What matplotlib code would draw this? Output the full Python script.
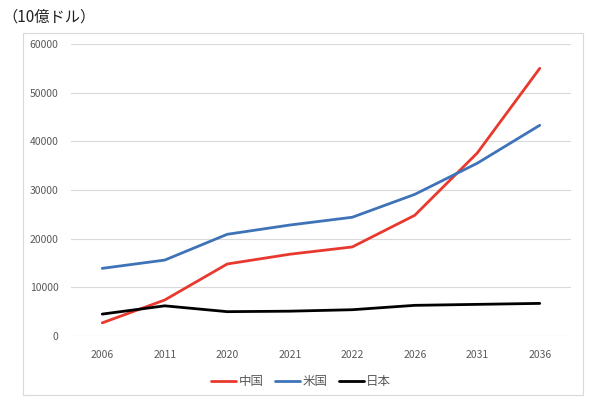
import matplotlib
matplotlib.use("Agg")
import matplotlib.pyplot as plt
from matplotlib.patches import Rectangle

plt.rcParams['font.family'] = ['Noto Sans CJK JP', 'DejaVu Sans']

years = ["2006", "2011", "2020", "2021", "2022", "2026", "2031", "2036"]
china = [2700, 7400, 14800, 16800, 18300, 24800, 37600, 55000]
usa = [13900, 15600, 20900, 22800, 24400, 29100, 35500, 43300]
japan = [4500, 6200, 5000, 5100, 5400, 6300, 6500, 6700]
series_names = ["中国", "米国", "日本"]
colors = ["#e8392e", "#3f73b8", "#000000"]
yticks = [0, 10000, 20000, 30000, 40000, 50000, 60000]

W, H = 600, 397
fig = plt.figure(figsize=(W/100, H/100), dpi=100)
fig.patches.append(Rectangle((23/W, 1-395/H), (583-23)/W, (395-33)/H,
                             transform=fig.transFigure, fill=False,
                             edgecolor="#d9d9d9", linewidth=0.8))
ax = fig.add_axes([71/W, 1-336/H, 500/W, (336-44)/H])
x = list(range(len(years)))
for vals, name, c in zip([china, usa, japan], series_names, colors):
    ax.plot(x, vals, color=c, linewidth=2.0, label=name, solid_capstyle='round')
ax.set_xlim(-0.5, len(years)-0.5)
ax.set_ylim(0, 60000)
ax.set_yticks(yticks)
ax.set_yticklabels([str(v) for v in yticks])
ax.set_xticks(x)
ax.set_xticklabels(years)
ax.grid(axis='y', color="#d9d9d9", linewidth=0.8)
ax.set_axisbelow(True)
for s in ax.spines.values():
    s.set_visible(False)
ax.tick_params(axis='both', length=0, labelsize=7.5, colors="#595959")
ax.tick_params(axis='y', pad=9)
ax.tick_params(axis='x', pad=10)
leg = ax.legend(loc='upper center', bbox_to_anchor=(0.46, -0.095), ncol=3, frameon=False,
                fontsize=9, handlelength=2.0, handletextpad=0.2, columnspacing=0.9)
for t in leg.get_texts():
    t.set_color("#595959")
fig.text(2/W, 1-17/H, "（10億ドル）", fontsize=11, va='center', ha='left', color="#222222")
fig.savefig("out.png", dpi=100)
